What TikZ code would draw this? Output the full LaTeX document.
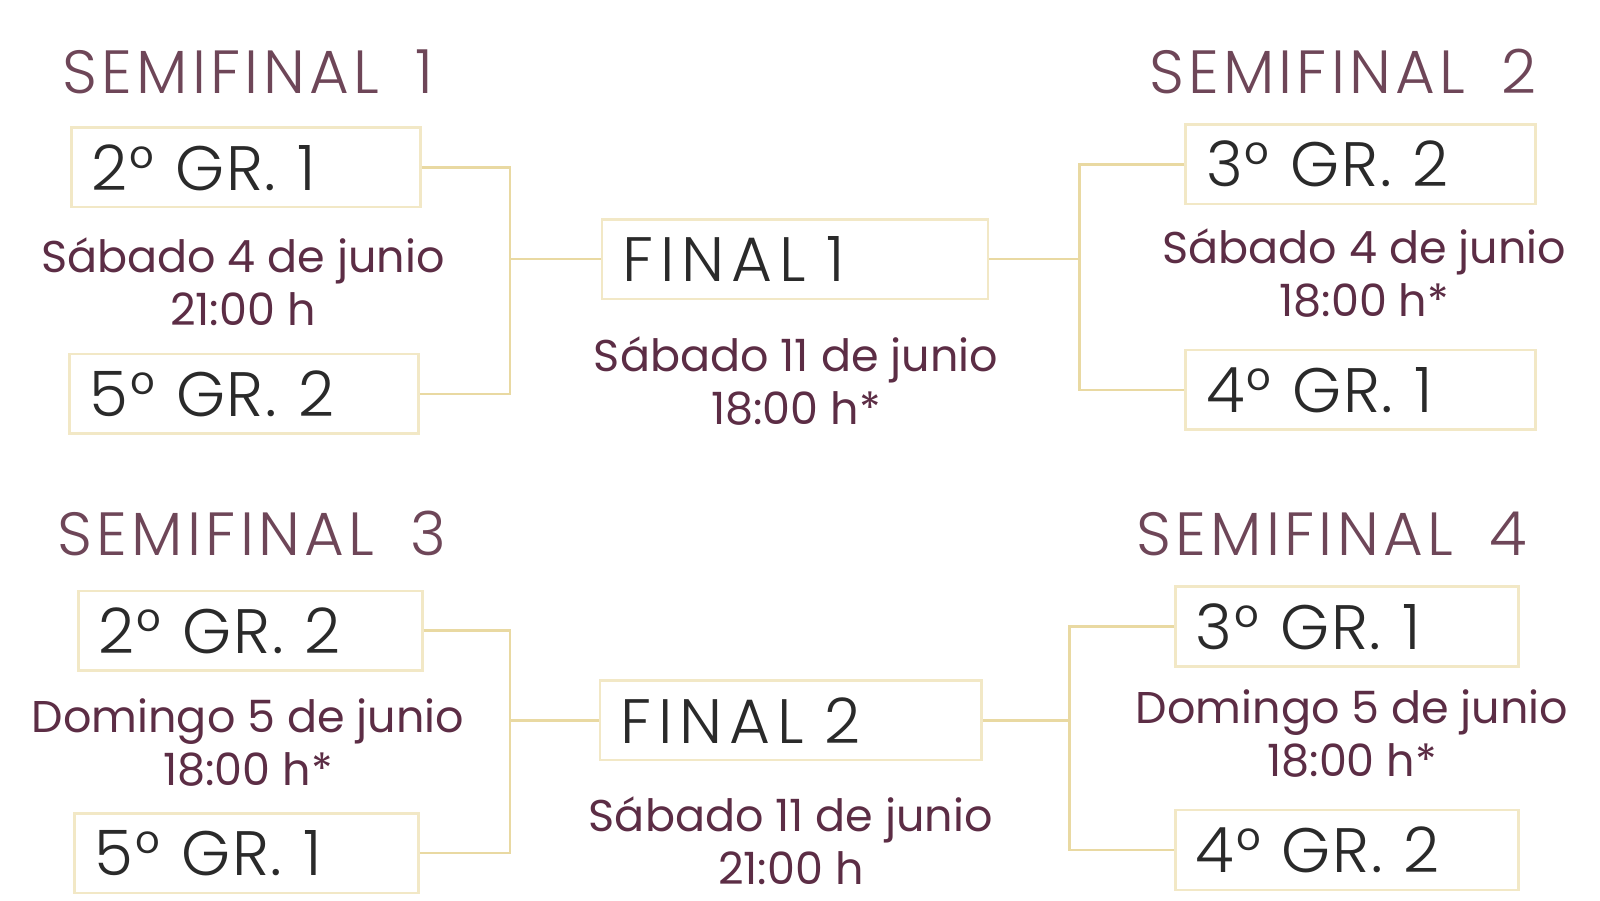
\documentclass[tikz,border=0pt]{standalone}
\usepackage{fontspec}
\setmainfont{Poppins}
\newfontfamily\titlefont{Poppins Light}[LetterSpace=7]
\newfontfamily\teamfont{Poppins Light}[LetterSpace=3]
\newfontfamily\finalfont{Poppins Light}[LetterSpace=11]
\usepackage{tikz}
\usepackage{xcolor}

\definecolor{titlecol}{HTML}{6E4658}
\definecolor{datecol}{HTML}{5C2D45}
\definecolor{teamcol}{HTML}{2A2A2A}
\definecolor{boxcol}{HTML}{F2E8C6}
\definecolor{linecol}{HTML}{E9D9A2}

\tikzset{
  teambox/.style={draw=boxcol, line width=0.7pt, minimum height=0.78cm, inner xsep=0.2cm, align=left, text=teamcol, font=\teamfont\fontsize{17.5}{19}\selectfont},
  finalbox/.style={teambox, font=\finalfont\fontsize{17.5}{19}\selectfont},
  roundtitle/.style={text=titlecol, font=\titlefont\fontsize{17}{18}\selectfont},
  datetext/.style={text=datecol, align=center, font=\fontsize{12.4}{14.8}\selectfont},
  bracket/.style={draw=linecol, line width=0.7pt}
}

\begin{document}
\begin{tikzpicture}
\useasboundingbox (0,0.18) rectangle (15.68,9);

% top half
\node [roundtitle] (t1) at (2.43,8.30) {SEMIFINAL\hspace{0.6em}1};
\node [teambox, text width=3.02cm] (s1a) at (2.41,7.36) {2° GR. 1};
\node [datetext] (d1) at (2.38,6.24) {Sábado 4 de junio\\21:00 h};
\node [teambox, text width=3.02cm] (s1b) at (2.39,5.14) {5° GR. 2};

\node [finalbox, text width=3.38cm] (f1) at (7.79,6.46) {FINAL 1};
\node [datetext] (df1) at (7.80,5.27) {Sábado 11 de junio\\18:00 h*};

\node [roundtitle] (t2) at (13.16,8.30) {SEMIFINAL\hspace{0.6em}2};
\node [teambox, text width=3.03cm] (s2a) at (13.335,7.39) {3° GR. 2};
\node [datetext] (d2) at (13.37,6.32) {Sábado 4 de junio\\18:00 h*};
\node [teambox, text width=3.03cm] (s2b) at (13.335,5.18) {4° GR. 1};

\coordinate (j1) at (5.00,6.46);
\coordinate (j2) at (10.58,6.46);
\draw [bracket] (s1a.east) -| (j1) |- (s1b.east);
\draw [bracket] (j1) -- (f1.west);
\draw [bracket] (s2a.west) -| (j2) |- (s2b.west);
\draw [bracket] (j2) -- (f1.east);

% bottom half
\node [roundtitle] (t3) at (2.47,3.77) {SEMIFINAL\hspace{0.6em}3};
\node [teambox, text width=2.97cm] (s3a) at (2.455,2.82) {2° GR. 2};
\node [datetext] (d3) at (2.43,1.72) {Domingo 5 de junio\\18:00 h*};
\node [teambox, text width=2.97cm] (s3b) at (2.415,0.64) {5° GR. 1};

\node [finalbox, text width=3.34cm] (f2) at (7.75,1.94) {FINAL 2};
\node [datetext] (df2) at (7.75,0.76) {Sábado 11 de junio\\21:00 h};

\node [roundtitle] (t4) at (13.05,3.77) {SEMIFINAL\hspace{0.6em}4};
\node [teambox, text width=2.96cm] (s4a) at (13.20,2.86) {3° GR. 1};
\node [datetext] (d4) at (13.25,1.81) {Domingo 5 de junio\\18:00 h*};
\node [teambox, text width=2.96cm] (s4b) at (13.20,0.67) {4° GR. 2};

\coordinate (j3) at (5.00,1.94);
\coordinate (j4) at (10.48,1.94);
\draw [bracket] (s3a.east) -| (j3) |- (s3b.east);
\draw [bracket] (j3) -- (f2.west);
\draw [bracket] (s4a.west) -| (j4) |- (s4b.west);
\draw [bracket] (j4) -- (f2.east);
\end{tikzpicture}
\end{document}
